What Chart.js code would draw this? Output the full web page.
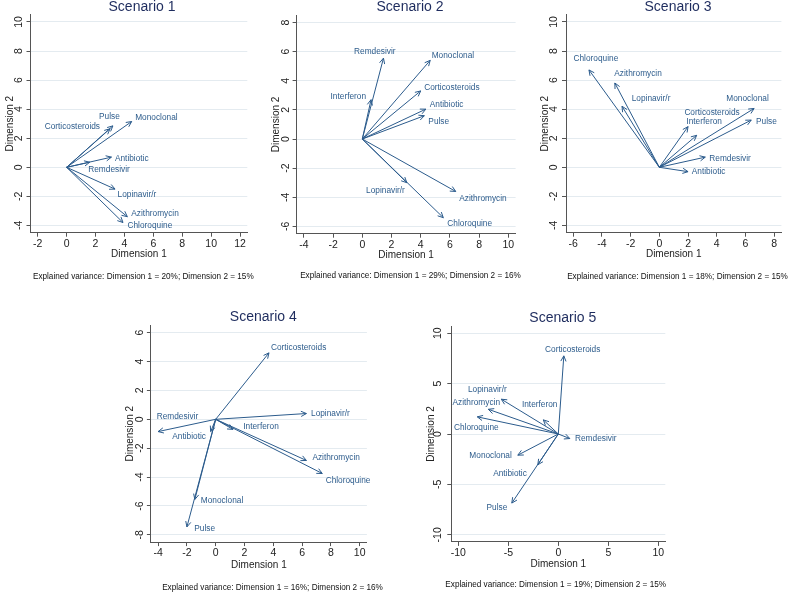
<!DOCTYPE html>
<html>
<head>
<meta charset="utf-8">
<script src="https://cdn.jsdelivr.net/npm/chart.js@4.4.1/dist/chart.umd.min.js"></script>
<style>
  html, body { margin: 0; padding: 0; background: #fff; }
  #wrap { position: relative; width: 791px; height: 597px; overflow: hidden; }
  #wrap canvas { position: absolute; left: 0; top: 0; }
</style>
</head>
<body>
<div id="wrap">
  <canvas id="s1" width="791" height="597"></canvas>
  <canvas id="s2" width="791" height="597"></canvas>
  <canvas id="s3" width="791" height="597"></canvas>
  <canvas id="s4" width="791" height="597"></canvas>
  <canvas id="s5" width="791" height="597"></canvas>
</div>
<script>
// --- data (dimension 1 / dimension 2 loadings) ---

// Scenario 1
const drugs1 = ['Corticosteroids', 'Pulse', 'Monoclonal', 'Antibiotic', 'Remdesivir', 'Lopinavir/r', 'Azithromycin', 'Chloroquine'];
const dim1S1 = [3.0, 3.2, 4.5, 3.1, 1.6, 3.35, 4.2, 3.9];
const dim2S1 = [2.65, 2.85, 3.15, 0.7, 0.35, -1.5, -3.4, -3.8];
const ticksX1 = [-2, 0, 2, 4, 6, 8, 10, 12];
const ticksY1 = [-4, -2, 0, 2, 4, 6, 8, 10];
const note1 = 'Explained variance: Dimension 1 = 20%; Dimension 2 = 15%';

// Scenario 2
const drugs2 = ['Remdesivir', 'Interferon', 'Monoclonal', 'Corticosteroids', 'Antibiotic', 'Pulse', 'Lopinavir/r', 'Azithromycin', 'Chloroquine'];
const dim1S2 = [1.45, 0.6, 4.65, 4.0, 4.35, 4.25, 3.05, 6.4, 5.55];
const dim2S2 = [5.55, 2.7, 5.4, 3.3, 2.05, 1.6, -3.0, -3.6, -5.4];
const ticksX2 = [-4, -2, 0, 2, 4, 6, 8, 10];
const ticksY2 = [-6, -4, -2, 0, 2, 4, 6, 8];
const note2 = 'Explained variance: Dimension 1 = 29%; Dimension 2 = 16%';

// Scenario 3
const drugs3 = ['Chloroquine', 'Azithromycin', 'Lopinavir/r', 'Monoclonal', 'Pulse', 'Corticosteroids', 'Interferon', 'Remdesivir', 'Antibiotic'];
const dim1S3 = [-4.9, -3.1, -2.6, 6.6, 6.4, 2.6, 2.0, 3.2, 2.0];
const dim2S3 = [6.7, 5.8, 4.2, 4.05, 3.25, 2.2, 2.8, 0.7, -0.3];
const ticksX3 = [-6, -4, -2, 0, 2, 4, 6, 8];
const ticksY3 = [-4, -2, 0, 2, 4, 6, 8, 10];
const note3 = 'Explained variance: Dimension 1 = 18%; Dimension 2 = 15%';

// Scenario 4
const drugs4 = ['Corticosteroids', 'Lopinavir/r', 'Remdesivir', 'Antibiotic', 'Interferon', 'Azithromycin', 'Chloroquine', 'Monoclonal', 'Pulse'];
const dim1S4 = [3.7, 6.3, -4.0, -0.35, 1.2, 6.3, 7.4, -1.45, -2.0];
const dim2S4 = [4.6, 0.4, -0.85, -0.85, -0.7, -2.85, -3.75, -5.55, -7.45];
const ticksX4 = [-4, -2, 0, 2, 4, 6, 8, 10];
const ticksY4 = [-8, -6, -4, -2, 0, 2, 4, 6];
const note4 = 'Explained variance: Dimension 1 = 16%; Dimension 2 = 16%';

// Scenario 5
const drugs5 = ['Corticosteroids', 'Lopinavir/r', 'Azithromycin', 'Chloroquine', 'Interferon', 'Remdesivir', 'Monoclonal', 'Antibiotic', 'Pulse'];
const dim1S5 = [0.55, -5.7, -7.0, -8.1, -1.5, 1.15, -4.05, -2.05, -4.65];
const dim2S5 = [7.75, 3.45, 2.45, 1.7, 1.4, -0.45, -2.1, -3.05, -6.85];
const ticksX5 = [-10, -5, 0, 5, 10];
const ticksY5 = [-10, -5, 0, 5, 10];
const note5 = 'Explained variance: Dimension 1 = 19%; Dimension 2 = 15%';

// --- label placement (pixel offset from arrow tip, text alignment) ---
const lab1 = [[-10, -2, 'right'], [-3.5, -9, 'center'], [3.5, -3.5, 'left'], [3.5, 2, 'left'], [-1.5, 7.5, 'left'], [2.5, 6, 'left'], [4, -3.5, 'left'], [4.5, 3.5, 'left']];
const lab2 = [[-8.7, -6.4, 'center'], [-5, -3, 'right'], [1.5, -5, 'left'], [3.5, -3.5, 'left'], [4, -4, 'left'], [4, 6, 'left'], [-2, 8, 'right'], [3.5, 7.5, 'left'], [4, 6.5, 'left']];
const lab3 = [[6.9, -11, 'center'], [-0.5, -9, 'left'], [9.7, -8, 'left'], [-6.6, -9.5, 'center'], [4.8, 1.7, 'left'], [-12.3, -22.6, 'left'], [-1.7, -5, 'left'], [4, 1.2, 'left'], [3.7, 0, 'left']];
const lab4 = [[2, -5, 'left'], [4.6, 0.5, 'left'], [-1.4, -15, 'left'], [-4.7, 5, 'right'], [10.3, -2.7, 'left'], [6, -3, 'left'], [3.4, 7, 'left'], [6, 1, 'left'], [7.4, 1.7, 'left']];
const lab5 = [[8.9, -6, 'center'], [5.4, -9, 'right'], [11.7, -6.6, 'right'], [-1, 10.8, 'center'], [-3.6, -15, 'center'], [5.2, 0.5, 'left'], [-6, 1, 'right'], [-11, 8.6, 'right'], [-4.5, 4.3, 'right']];

const FONT = "'Liberation Sans', Arial, Helvetica, sans-serif";
const ARROW = '#2b5b8c';
const LABEL = '#2d5c8c';
const TITLE = '#1e2c5e';
const AXIS = '#555';
const TICK = '#222';
const GRID = '#e4ebf0';
const YW = 28;   // width kept for the y axis (ticks + title)
const XH = 30;   // height kept for the x axis (ticks + title)

Chart.defaults.font.family = FONT;

// arrowheads, point labels, panel title and footnote
const biplotPlugin = {
  id: 'biplot',
  afterDatasetsDraw(chart, args, opts) {
    const ctx = chart.ctx;
    ctx.save();
    chart.data.datasets.forEach((ds, i) => {
      const pts = chart.getDatasetMeta(i).data;
      const x0 = pts[0].x, y0 = pts[0].y, x1 = pts[1].x, y1 = pts[1].y;
      const a = Math.atan2(y1 - y0, x1 - x0);
      const len = 6, spread = 0.45;
      ctx.strokeStyle = ARROW;
      ctx.lineWidth = 1;
      ctx.beginPath();
      ctx.moveTo(x1 - len * Math.cos(a - spread), y1 - len * Math.sin(a - spread));
      ctx.lineTo(x1, y1);
      ctx.lineTo(x1 - len * Math.cos(a + spread), y1 - len * Math.sin(a + spread));
      ctx.stroke();

      const p = opts.labels[i];
      ctx.fillStyle = LABEL;
      ctx.font = '8.3px ' + FONT;
      ctx.textAlign = p[2];
      ctx.textBaseline = 'middle';
      ctx.fillText(ds.label, x1 + p[0], y1 + p[1]);
    });
    ctx.restore();
  },
  afterDraw(chart, args, opts) {
    const ctx = chart.ctx;
    ctx.save();
    ctx.textAlign = 'center';
    ctx.textBaseline = 'middle';
    ctx.fillStyle = TITLE;
    ctx.font = '14px ' + FONT;
    ctx.fillText(opts.title, opts.titlePos[0], opts.titlePos[1]);
    ctx.fillStyle = '#111';
    ctx.font = '8.2px ' + FONT;
    ctx.fillText(opts.note, opts.notePos[0], opts.notePos[1]);
    ctx.restore();
  }
};

function makePanel(id, title, drugs, xs, ys, labels, ticksX, ticksY, note, L) {
  const datasets = drugs.map((d, i) => ({
    label: d,
    data: [{ x: 0, y: 0 }, { x: xs[i], y: ys[i] }],
    showLine: true,
    borderColor: ARROW,
    borderWidth: 1,
    pointRadius: 0,
    fill: false
  }));
  const [left, right, top, bottom] = L.area;
  const xTitlePad = bottom + XH - 6 - L.xTitleY;

  new Chart(document.getElementById(id), {
    type: 'scatter',
    data: { datasets },
    plugins: [biplotPlugin],
    options: {
      responsive: false,
      animation: false,
      events: [],
      layout: { padding: { left: left - YW, right: 791 - right, top: top, bottom: 597 - bottom - XH } },
      plugins: {
        legend: { display: false },
        tooltip: { enabled: false },
        biplot: { labels, title, note, titlePos: L.title, notePos: L.note }
      },
      scales: {
        x: {
          type: 'linear',
          min: L.x[0], max: L.x[1],
          afterBuildTicks: s => { s.ticks = ticksX.map(v => ({ value: v })); },
          afterFit: s => { s.height = XH; },
          grid: { drawOnChartArea: false, tickLength: 4, tickColor: AXIS },
          border: { color: AXIS, width: 1 },
          ticks: { color: TICK, font: { size: 10.5 }, padding: 1, maxRotation: 0, autoSkip: false, callback: v => String(v) },
          title: { display: true, text: 'Dimension 1', color: TICK, font: { size: 10 }, padding: { top: 0, bottom: xTitlePad } }
        },
        y: {
          type: 'linear',
          min: L.y[0], max: L.y[1],
          afterBuildTicks: s => { s.ticks = ticksY.map(v => ({ value: v })); },
          afterFit: s => { s.width = YW; },
          grid: { color: GRID, tickLength: 4, tickColor: AXIS },
          border: { color: AXIS, width: 1 },
          ticks: { color: TICK, font: { size: 10.5 }, padding: 2, minRotation: 90, maxRotation: 90, crossAlign: 'center', autoSkip: false, callback: v => String(v) },
          title: { display: true, text: 'Dimension 2', color: TICK, font: { size: 10 }, padding: { top: 1.5, bottom: 0 } }
        }
      }
    }
  });
}

makePanel('s1', 'Scenario 1', drugs1, dim1S1, dim2S1, lab1, ticksX1, ticksY1, note1,
  { area: [30.5, 247.3, 14.7, 232.7], x: [-2.5, 12.5], y: [-4.5, 10.5], xTitleY: 254, title: [142, 7.5], note: [143.3, 276.7] });
makePanel('s2', 'Scenario 2', drugs2, dim1S2, dim2S2, lab2, ticksX2, ticksY2, note2,
  { area: [296.6, 515.6, 15.2, 233.7], x: [-4.5, 10.5], y: [-6.5, 8.5], xTitleY: 255, title: [410, 7.5], note: [410.5, 276] });
makePanel('s3', 'Scenario 3', drugs3, dim1S3, dim2S3, lab3, ticksX3, ticksY3, note3,
  { area: [566, 781.4, 14.7, 232.7], x: [-6.5, 8.5], y: [-4.5, 10.5], xTitleY: 254, title: [678, 7.5], note: [677.5, 276.7] });
makePanel('s4', 'Scenario 4', drugs4, dim1S4, dim2S4, lab4, ticksX4, ticksY4, note4,
  { area: [150.9, 366.9, 325.4, 542.1], x: [-4.5, 10.5], y: [-8.5, 6.5], xTitleY: 565, title: [263.3, 317.5], note: [272.5, 587.7] });
makePanel('s5', 'Scenario 5', drugs5, dim1S5, dim2S5, lab5, ticksX5, ticksY5, note5,
  { area: [451.3, 665.3, 326.1, 541.9], x: [-10.7, 10.7], y: [-10.7, 10.7], xTitleY: 564, title: [562.8, 318.3], note: [555.7, 585] });
</script>
</body>
</html>
